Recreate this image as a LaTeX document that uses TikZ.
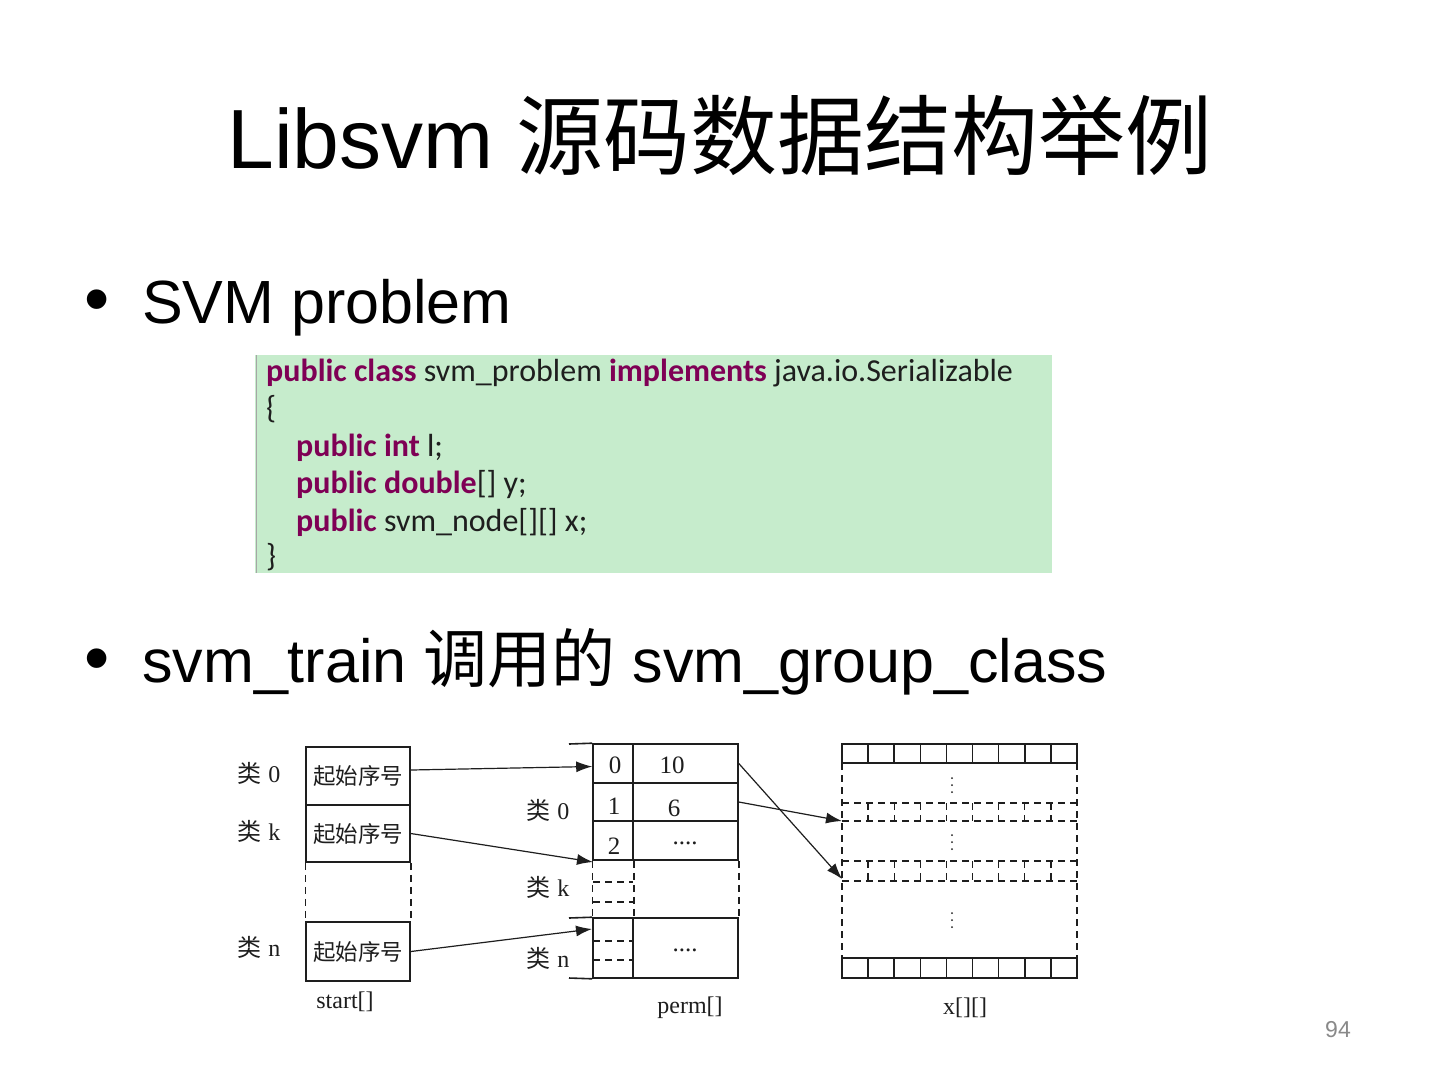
\documentclass[tikz,border=0pt]{standalone}
\usepackage{fontspec}
\setmainfont{Liberation Sans}
\newfontfamily\cjk{Noto Sans CJK SC}
\newfontfamily\calib{Carlito}
\newfontfamily\serifr{Liberation Serif}
\usetikzlibrary{arrows.meta}
\definecolor{codebg}{RGB}{198,236,204}
\definecolor{kw}{RGB}{127,0,85}
\definecolor{ink}{RGB}{30,30,30}
\definecolor{pgnum}{RGB}{137,137,137}
\begin{document}
\begin{tikzpicture}[x=1pt,y=-1pt,
  cellbox/.style={draw=ink, line width=1.6pt, inner sep=0pt, text=ink},
  lbl/.style={inner sep=0pt, text=ink, font=\fontsize{24}{26}\selectfont},
  numtxt/.style={inner sep=0pt, text=ink, font=\serifr\fontsize{25}{27}\selectfont},
  codeline/.style={anchor=base west, inner sep=0pt, text=ink, font=\calib\fontsize{32}{38}\selectfont},
  conn/.style={draw=ink, line width=1.2pt, -{Latex[length=16pt,width=11pt]}},
  dsh/.style={draw=ink, line width=1.4pt, dash pattern=on 7pt off 5pt},
  sol/.style={draw=ink, line width=1.6pt},
  dotf/.style={fill=ink}]
\useasboundingbox (0,0) rectangle (1440,1080);
\fill[white] (0,0) rectangle (1440,1080);

% title
\node[anchor=base, inner sep=0pt] (title) at (720,168)
  {\fontsize{84}{100}\selectfont Libsvm {\cjk\fontsize{87}{100}\selectfont 源码数据结构举例}};

% bullets
\node[anchor=base west, inner sep=0pt] (b1dot) at (84,323) {\fontsize{72}{80}\selectfont •};
\node[anchor=base west, inner sep=0pt] (b1) at (142,323) {\fontsize{61}{70}\selectfont SVM problem};
\node[anchor=base west, inner sep=0pt] (b2dot) at (84,682) {\fontsize{72}{80}\selectfont •};
\node[anchor=base west, inner sep=0pt] (b2) at (142,682)
  {\fontsize{61}{70}\selectfont svm\_train {\cjk\fontsize{64}{70}\selectfont 调用的} svm\_group\_class};

% code box
\fill[codebg] (255,355) rectangle (1052,573);
\draw[gray!70, line width=1pt] (256,355) -- (256,573);
\node[codeline] (c1) at (266,381) {\textcolor{kw}{\bfseries public class} svm\_problem \textcolor{kw}{\bfseries implements} java.io.Serializable};
\node[codeline] (c2) at (266,418.5) {\{};
\node[codeline] (c3) at (296,456) {\textcolor{kw}{\bfseries public int} l;};
\node[codeline] (c4) at (296,493.5) {\textcolor{kw}{\bfseries public double}[] y;};
\node[codeline] (c5) at (296,531) {\textcolor{kw}{\bfseries public} svm\_node[][] x;};
\node[codeline] (c6) at (266,566) {\}};

% ---------- start[] ----------
\node[cellbox, minimum width=104pt, minimum height=58pt] (s0) at (358,776) {\cjk\fontsize{22.5}{24}\selectfont 起始序号};
\node[cellbox, minimum width=104pt, minimum height=57pt] (s1) at (358,833.5) {\cjk\fontsize{22.5}{24}\selectfont 起始序号};
\node[cellbox, minimum width=104pt, minimum height=59pt] (sn) at (358,951.5) {\cjk\fontsize{22.5}{24}\selectfont 起始序号};
\draw[dsh] (s1.south west) -- (sn.north west);
\draw[dsh] (s1.south east) -- (sn.north east);
\node[lbl] (ls0) at (259,773) {{\cjk 类} {\serifr 0}};
\node[lbl] (ls1) at (259,831) {{\cjk 类} {\serifr k}};
\node[lbl] (lsn) at (259,947) {{\cjk 类} {\serifr n}};
\node[lbl] (tstart) at (345,1002) {\serifr start[]};

% ---------- perm[] ----------
\node[cellbox, minimum width=40pt, minimum height=39pt] (i0) at (613,763.5) {};
\node[cellbox, minimum width=40pt, minimum height=38pt] (i1) at (613,802) {};
\node[cellbox, minimum width=40pt, minimum height=39pt] (i2) at (613,840.5) {};
\node[cellbox, minimum width=105pt, minimum height=39pt] (v0) at (685.5,763.5) {};
\node[cellbox, minimum width=105pt, minimum height=38pt] (v1) at (685.5,802) {};
\node[cellbox, minimum width=105pt, minimum height=39pt] (v2) at (685.5,840.5) {};
\node[cellbox, minimum width=40pt, minimum height=60pt] (in) at (613,948) {};
\node[cellbox, minimum width=105pt, minimum height=60pt] (vn) at (685.5,948) {};
\node[numtxt] (t0) at (615,765) {0};
\node[numtxt] (t1) at (614,806) {1};
\node[numtxt] (t2) at (614,846) {2};
\node[numtxt] (t10) at (672,765) {10};
\node[numtxt] (t6) at (674,808) {6};
\node[numtxt] (tdots2) at (685,843) {....};
\node[numtxt] (tdotsn) at (685,950) {....};
\draw[sol] (569,744) -- (i0.north west);
\draw[sol] (569,918) -- (in.north west);
\draw[sol] (569,978) -- (in.south west);
\draw[dsh] (i2.south west) -- (in.north west);
\draw[dsh] (i2.south east) -- (in.north east);
\draw[dsh] (v2.south east) -- (vn.north east);
\draw[dsh] (593,882) -- (633,882);
\draw[dsh] (593,902) -- (633,902);
\draw[dsh] (593,941) -- (633,941);
\draw[dsh] (593,960) -- (633,960);
\node[lbl] (lp0) at (548,810) {{\cjk 类} {\serifr 0}};
\node[lbl] (lpk) at (548,887) {{\cjk 类} {\serifr k}};
\node[lbl] (lpn) at (548,958) {{\cjk 类} {\serifr n}};
\node[lbl] (tperm) at (690,1008) {\serifr perm[]};

% ---------- x[][] ----------
\draw[sol] (842,744) rectangle (1077,763);
\draw[sol] (842,958) rectangle (1077,978);
\foreach \i in {1,...,8} {
  \draw[sol] ({842+\i*26.11},744) -- ++(0,19);
  \draw[sol] ({842+\i*26.11},958) -- ++(0,20);
  \draw[dsh] ({842+\i*26.11},803) -- ++(0,18);
  \draw[dsh] ({842+\i*26.11},861) -- ++(0,20);
}
\draw[dsh] (842,763) -- (842,958);
\draw[dsh] (1077,763) -- (1077,958);
\draw[dsh] (842,803) -- (1077,803);
\draw[dsh] (842,821) -- (1077,821);
\draw[dsh] (842,861) -- (1077,861);
\draw[dsh] (842,881) -- (1077,881);
\foreach \y in {785,842,920} {
  \foreach \d in {-7,0,7} \fill[dotf] (952,\y+\d) circle (1pt);
}
\node[lbl] (tx) at (965,1008) {\serifr x[][]};

% connector end points
\coordinate (pk) at (593,862);
\coordinate (pn) at (592,929);
\coordinate (xa) at (842,821);
\coordinate (xb) at (842,879);

% connectors
\draw[conn] ([yshift=6pt]s0.east) -- ([yshift=-3pt]i0.west);
\draw[conn] (s1.east) -- (pk);
\draw[conn] (sn.east) -- (pn);
\draw[conn] (v0.east) -- (xb);
\draw[conn] (v1.east) -- (xa);

% page number
\node[inner sep=0pt, text=pgnum] (pg) at (1338,1030) {\fontsize{23}{26}\selectfont 94};
\end{tikzpicture}
\end{document}
